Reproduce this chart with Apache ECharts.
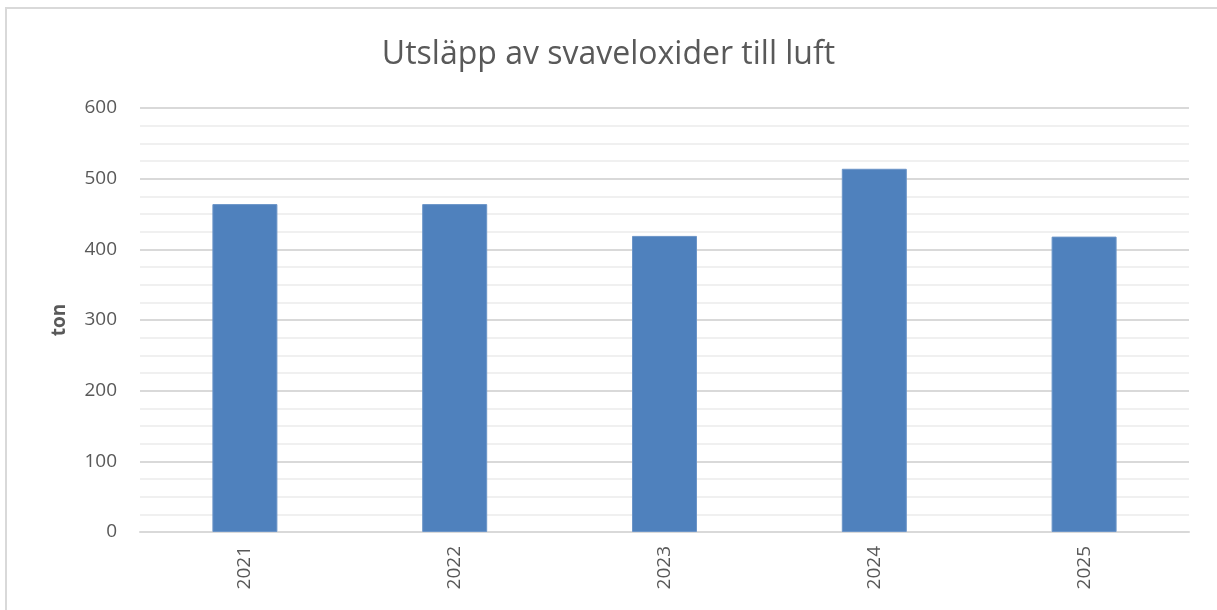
<!DOCTYPE html>
<html>
<head>
<meta charset="utf-8">
<script src="https://cdn.jsdelivr.net/npm/echarts@6/dist/echarts.min.js"></script>
<style>
  html, body { margin: 0; padding: 0; background: #fff; }
  #frame { position: absolute; left: 5px; top: 7px; width: 1230px; height: 620px;
           border-left: 2px solid #d9d9d9; border-top: 2px solid #d9d9d9; }
  #chart { position: absolute; left: 0; top: 0; width: 1217px; height: 610px; }
</style>
</head>
<body>
<div id="frame"></div>
<div id="chart"></div>
<script>
// data
var years = ['2021', '2022', '2023', '2024', '2025'];
var utslapp = [464, 464, 419, 514, 418];
var chartTitle = 'Utsläpp av svaveloxider till luft';
var unitName = 'ton';

var textColor = '#595959';
var fontFam = '"Open Sans", "Noto Sans", sans-serif';

var myChart = echarts.init(document.getElementById('chart'));

var option = {
    animation: false,
    title: {
        text: chartTitle,
        left: 'center',
        top: 34,
        textStyle: { fontFamily: fontFam, fontSize: 32, fontWeight: 'normal', color: textColor }
    },
    grid: { left: 140, right: 28, top: 108, bottom: 78 },
    xAxis: {
        type: 'category',
        data: years,
        axisTick: { show: false },
        axisLine: { lineStyle: { color: '#d9d9d9', width: 2 } },
        axisLabel: {
            rotate: 90,
            margin: 14,
            color: textColor,
            fontFamily: fontFam,
            fontSize: 19
        }
    },
    yAxis: {
        type: 'value',
        min: 0,
        max: 600,
        interval: 100,
        name: unitName,
        nameLocation: 'middle',
        nameGap: 71,
        nameTextStyle: { color: textColor, fontFamily: fontFam, fontSize: 19, fontWeight: 'bold' },
        axisLine: { show: false },
        axisTick: { show: false },
        axisLabel: { margin: 23, color: textColor, fontFamily: fontFam, fontSize: 19 },
        splitLine: { lineStyle: { color: '#d9d9d9', width: 2 } },
        minorTick: { show: false, splitNumber: 4 },
        minorSplitLine: { show: true, lineStyle: { color: '#f0f0f0', width: 2 } }
    },
    series: [{
        type: 'bar',
        data: utslapp,
        barWidth: 65,
        itemStyle: { color: '#4f81bd', borderColor: '#6c95c8', borderWidth: 1 }
    }]
};

myChart.setOption(option);
</script>
</body>
</html>
